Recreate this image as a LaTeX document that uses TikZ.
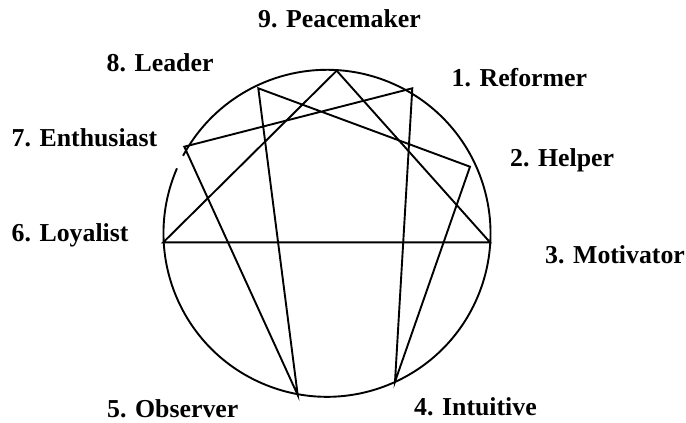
\documentclass[tikz,border=0pt]{standalone}
\usepackage{fontspec}
\setmainfont{Liberation Serif}
\begin{document}
\begin{tikzpicture}[x=1pt,y=-1pt,
  edge/.style={line width=1.9pt,line join=miter},
  lbl/.style={anchor=base west,inner sep=0pt,font=\fontsize{25.8}{29}\selectfont\bfseries}]
\useasboundingbox (0,0) rectangle (686,423);
% vertices
\coordinate (c) at (327,233.3);
\coordinate (p9) at (336.7,70.7);
\coordinate (p8) at (258.3,88.3);
\coordinate (p1) at (412.3,88.3);
\coordinate (p7) at (184.3,146.7);
\coordinate (p2) at (470,166.7);
\coordinate (p3) at (490,242.3);
\coordinate (p6) at (163.3,242.3);
\coordinate (p4) at (395,381.7);
\coordinate (p5) at (297.7,395);
% circle with a small gap at the left
\draw[edge] (c) ++(156.6:163.5pt) arc[start angle=156.6,end angle=511.7,radius=163.5pt];
% triangle
\draw[edge] (p9) -- (p3) -- (p6) -- cycle;
% hexad
\draw[edge] (p1) -- (p4) -- (p2) -- (p8) -- (p5) -- (p7) -- cycle;
% labels
\node[lbl] (l9) at (258,27.5) {9. Peacemaker};
\node[lbl] (l8) at (106.5,71.7) {8. Leader};
\node[lbl] (l7) at (11.5,146.7) {7. Enthusiast};
\node[lbl] (l6) at (11.5,241.7) {6. Loyalist};
\node[lbl] (l1) at (451.5,86.7) {1. Reformer};
\node[lbl] (l2) at (510,166) {2. Helper};
\node[lbl] (l3) at (545,263.3) {3. Motivator};
\node[lbl] (l5) at (107,417) {5. Observer};
\node[lbl] (l4) at (414,415) {4. Intuitive};
\end{tikzpicture}
\end{document}
